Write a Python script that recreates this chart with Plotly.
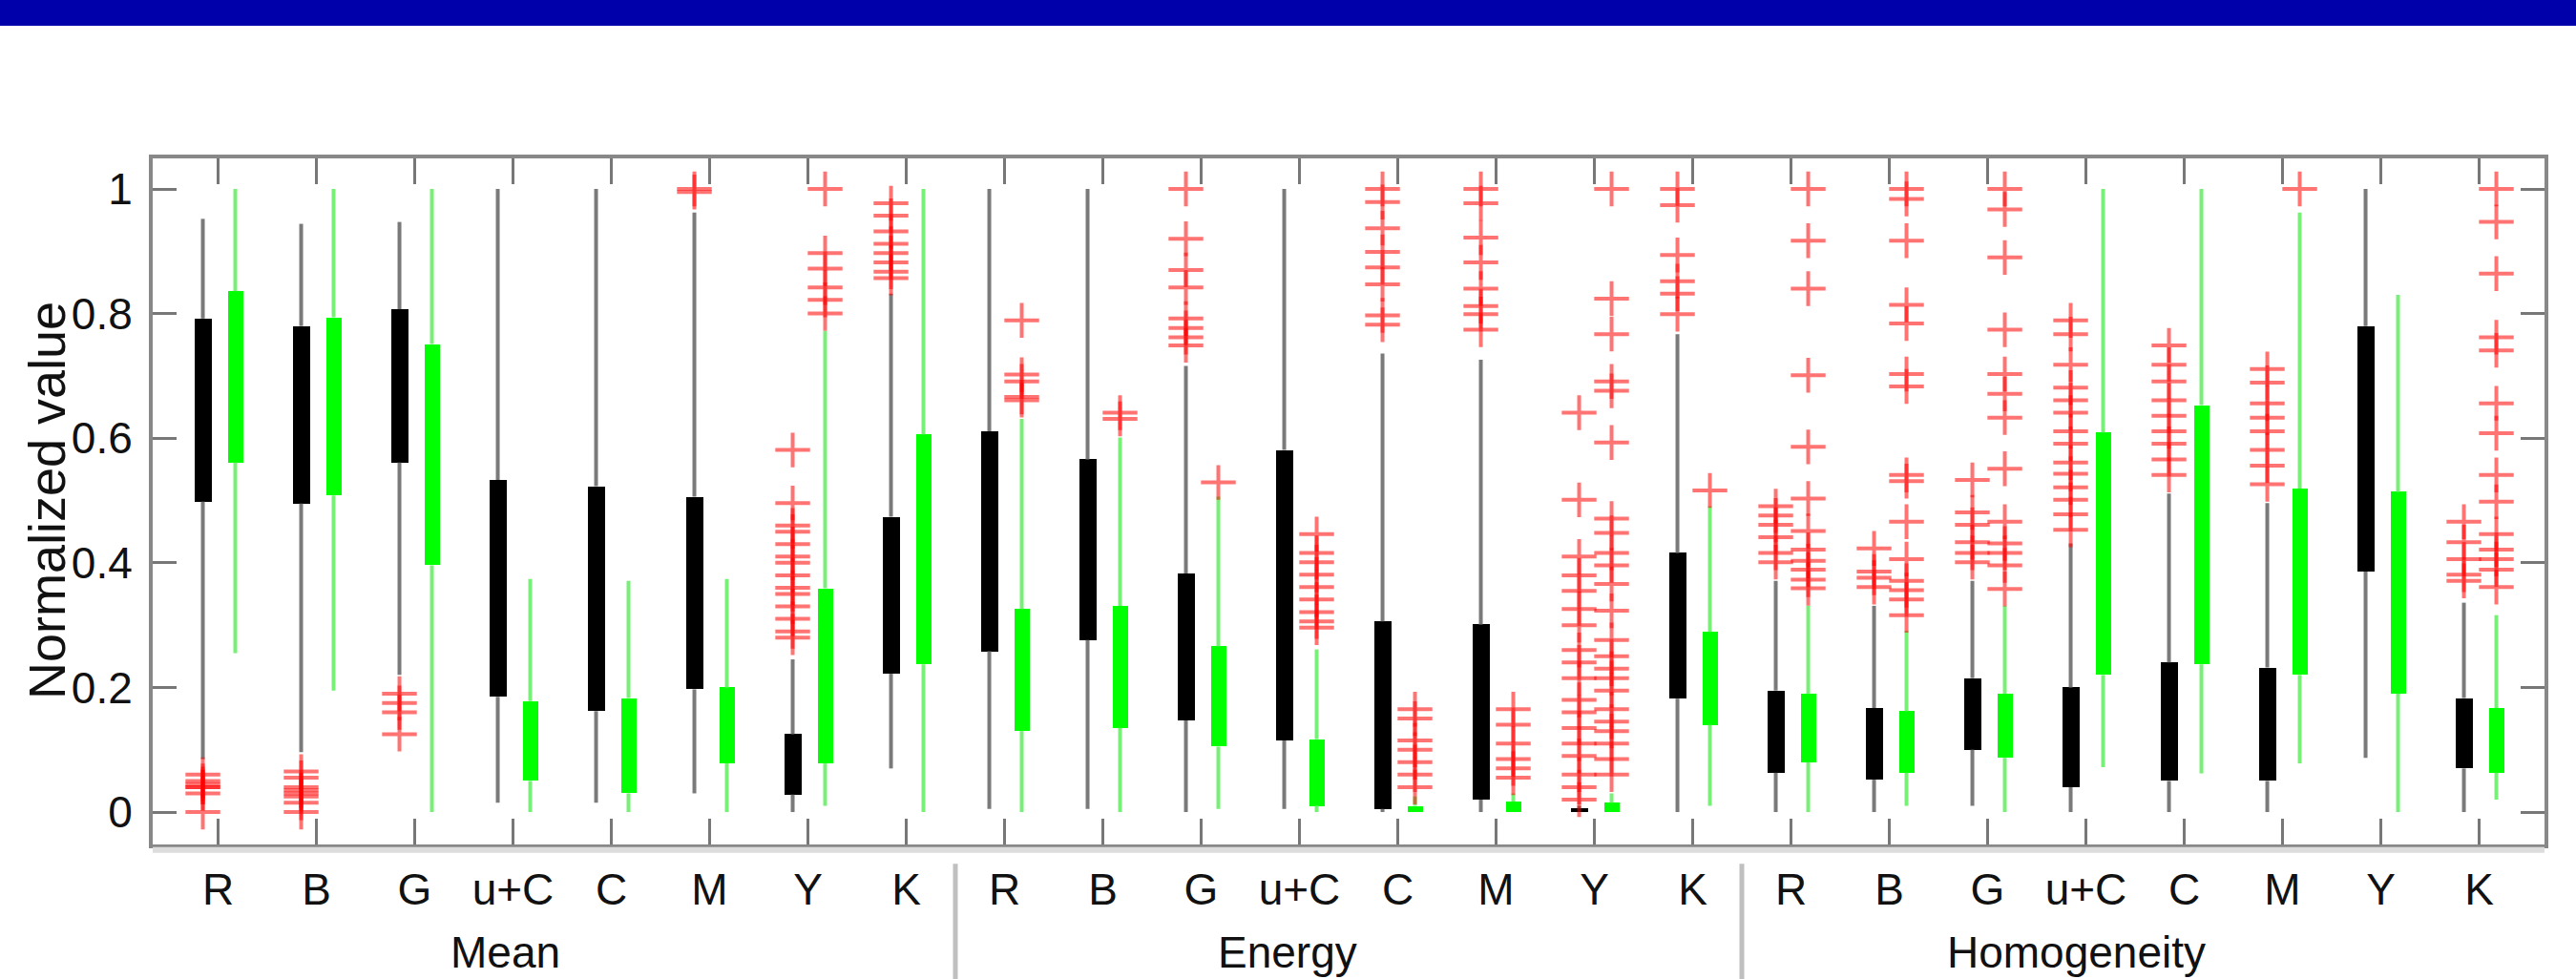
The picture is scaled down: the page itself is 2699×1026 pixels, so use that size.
import plotly.graph_objects as go

# ---------------- data ----------------
groups = ["Mean", "Energy", "Homogeneity"]
channels = ["R", "B", "G", "u+C", "C", "M", "Y", "K"]

# black series (lower whisker, q1, q3, upper whisker), 24 categories
blk_lo = [0.085, 0.096, 0.22, 0.015, 0.015, 0.03, 0.0, 0.07,
          0.005, 0.005, 0.0, 0.005, 0.0, 0.0, 0.0, 0.0,
          0.0, 0.0, 0.01, 0.0, 0.0, 0.0, 0.087, 0.0]
blk_q1 = [0.498, 0.495, 0.561, 0.185, 0.162, 0.197, 0.028, 0.222,
          0.258, 0.276, 0.147, 0.115, 0.005, 0.02, 0.0, 0.182,
          0.063, 0.052, 0.10, 0.04, 0.05, 0.05, 0.386, 0.07]
blk_q3 = [0.792, 0.78, 0.807, 0.533, 0.523, 0.506, 0.125, 0.474,
          0.611, 0.566, 0.383, 0.581, 0.306, 0.301, 0.006, 0.416,
          0.195, 0.167, 0.215, 0.20, 0.24, 0.232, 0.78, 0.183]
blk_hi = [0.952, 0.944, 0.947, 1.0, 1.0, 0.962, 0.245, 0.832,
          1.0, 1.0, 0.716, 1.0, 0.736, 0.726, 0.01, 0.767,
          0.371, 0.331, 0.371, 0.431, 0.511, 0.496, 1.0, 0.336]
blk_out = [
    [0.06, 0.05, 0.045, 0.04, 0.04, 0.03, 0.0],
    [0.065, 0.055, 0.04, 0.035, 0.03, 0.025, 0.015, 0.0],
    [0.19, 0.175, 0.16, 0.125],
    [],
    [],
    [1.0, 0.995],
    [0.581, 0.496, 0.46, 0.45, 0.43, 0.41, 0.40, 0.38, 0.36, 0.35, 0.33, 0.31, 0.29, 0.28],
    [0.977, 0.957, 0.932, 0.912, 0.897, 0.882, 0.867, 0.857],
    [],
    [],
    [1.0, 0.92, 0.87, 0.842, 0.792, 0.777, 0.762, 0.749],
    [],
    [1.0, 0.979, 0.937, 0.899, 0.874, 0.847, 0.797, 0.782],
    [1.0, 0.977, 0.922, 0.882, 0.84, 0.812, 0.799, 0.774],
    [0.641, 0.501, 0.41, 0.38, 0.355, 0.326, 0.30, 0.26, 0.24, 0.215, 0.18, 0.16,
     0.135, 0.11, 0.09, 0.06, 0.04, 0.02],
    [1.0, 0.974, 0.894, 0.852, 0.832, 0.799],
    [0.491, 0.476, 0.461, 0.441, 0.416, 0.401],
    [0.423, 0.386, 0.376, 0.361],
    [0.533, 0.481, 0.461, 0.433, 0.416, 0.401],
    [0.789, 0.767, 0.718, 0.681, 0.661, 0.641, 0.611, 0.591, 0.561, 0.543, 0.521,
     0.501, 0.478, 0.453],
    [0.749, 0.718, 0.691, 0.661, 0.636, 0.611, 0.591, 0.566, 0.541],
    [0.711, 0.689, 0.656, 0.633, 0.611, 0.581, 0.556, 0.526],
    [],
    [0.466, 0.433, 0.406, 0.381, 0.371],
]

# green series
grn_lo = [0.255, 0.195, 0.0, 0.0, 0.0, 0.0, 0.01, 0.0,
          0.0, 0.0, 0.005, 0.0, 0.0, 0.0, 0.0, 0.01,
          0.0, 0.01, 0.0, 0.072, 0.062, 0.078, 0.0, 0.02]
grn_q1 = [0.561, 0.508, 0.396, 0.05, 0.03, 0.078, 0.078, 0.237,
          0.13, 0.135, 0.105, 0.01, 0.0, 0.0, 0.0, 0.14,
          0.08, 0.063, 0.087, 0.22, 0.237, 0.22, 0.19, 0.063]
grn_q3 = [0.836, 0.794, 0.751, 0.178, 0.183, 0.20, 0.359, 0.606,
          0.326, 0.331, 0.266, 0.117, 0.01, 0.017, 0.015, 0.289,
          0.19, 0.162, 0.19, 0.609, 0.653, 0.519, 0.514, 0.167]
grn_hi = [1.0, 1.0, 1.0, 0.374, 0.371, 0.374, 0.772, 1.0,
          0.631, 0.601, 0.506, 0.261, 0.025, 0.03, 0.03, 0.491,
          0.331, 0.291, 0.331, 1.0, 1.0, 0.962, 0.83, 0.316]
grn_out = [
    [], [], [], [], [], [],
    [1.0, 0.897, 0.872, 0.842, 0.822, 0.80],
    [],
    [0.789, 0.702, 0.691, 0.666, 0.661],
    [0.641, 0.631],
    [0.529],
    [0.446, 0.416, 0.401, 0.381, 0.361, 0.341, 0.321, 0.306, 0.296],
    [0.165, 0.15, 0.115, 0.10, 0.08, 0.06, 0.04],
    [0.165, 0.14, 0.11, 0.085, 0.07, 0.055],
    [1.0, 0.824, 0.767, 0.691, 0.676, 0.593, 0.471, 0.448, 0.416, 0.396, 0.366,
     0.323, 0.276, 0.25, 0.23, 0.215, 0.195, 0.165, 0.145, 0.13, 0.11, 0.085, 0.06],
    [0.516],
    [1.0, 0.917, 0.84, 0.701, 0.586, 0.503, 0.451, 0.421, 0.403, 0.389, 0.373, 0.359],
    [1.0, 0.984, 0.917, 0.814, 0.784, 0.703, 0.683, 0.541, 0.531, 0.466, 0.406,
     0.371, 0.356, 0.341, 0.316],
    [1.0, 0.967, 0.89, 0.774, 0.703, 0.671, 0.633, 0.551, 0.466, 0.431, 0.416,
     0.396, 0.358],
    [], [],
    [1.0],
    [],
    [1.0, 0.947, 0.864, 0.762, 0.741, 0.656, 0.608, 0.541, 0.498, 0.446, 0.421,
     0.406, 0.389, 0.361],
]

y_ticks = [0, 0.2, 0.4, 0.6, 0.8, 1]
y_ticktext = ["0", "0.2", "0.4", "0.6", "0.8", "1"]
y_title = "Normalized value"

# ---------------- style ----------------
BLK_OFF, GRN_OFF = -0.155, 0.175
BLK_W, GRN_W = 0.175, 0.155
FONT = "Liberation Sans, Arial, sans-serif"

ncat = len(groups) * len(channels)
idx = list(range(ncat))
ticktext = channels * len(groups)

fig = go.Figure()


def add_series(off, lo, q1, q3, hi, out, fill, wcol, bw):
    xs, ys = [], []
    for i in idx:
        p = i + off
        xs += [p, p, None, p, p, None]
        ys += [lo[i], q1[i], None, q3[i], hi[i], None]
    fig.add_trace(go.Scatter(x=xs, y=ys, mode="lines",
                             line=dict(color=wcol, width=4),
                             hoverinfo="skip", showlegend=False))
    fig.add_trace(go.Bar(x=[i + off for i in idx],
                         y=[q3[i] - q1[i] for i in idx],
                         base=[q1[i] for i in idx],
                         width=bw, marker=dict(color=fill, line=dict(width=0)),
                         showlegend=False))
    ox, oy = [], []
    for i in idx:
        for v in out[i]:
            ox.append(i + off)
            oy.append(v)
    fig.add_trace(go.Scatter(x=ox, y=oy, mode="markers",
                             marker=dict(symbol="cross-thin", size=26,
                                         line=dict(color="rgba(255,0,0,0.55)", width=4)),
                             showlegend=False))


add_series(BLK_OFF, blk_lo, blk_q1, blk_q3, blk_hi, blk_out, "#000000", "#7a7a7a", BLK_W)
add_series(GRN_OFF, grn_lo, grn_q1, grn_q3, grn_hi, grn_out, "#00ff00", "#78f078", GRN_W)

# group labels, y title and separators
group_label_x = [2.92, 10.88, 18.9]
annotations = []
for g, gx in zip(groups, group_label_x):
    annotations.append(dict(x=gx, y=-0.157, xref="x", yref="paper", text=g,
                            showarrow=False, yanchor="middle", xanchor="center",
                            font=dict(family=FONT, size=46, color="#111111")))
annotations.append(dict(x=-0.0443, y=0.502, xref="paper", yref="paper", text=y_title,
                        textangle=-90, showarrow=False, xanchor="center",
                        yanchor="middle",
                        font=dict(family=FONT, size=54, color="#111111")))

shapes = []
for k in range(1, len(groups)):
    sx = k * len(channels) - 0.5
    shapes.append(dict(type="line", xref="x", yref="paper", x0=sx, x1=sx,
                       y0=-0.028, y1=-0.21, line=dict(color="#c0c0c0", width=5)))
# top banner
shapes.append(dict(type="rect", xref="paper", yref="paper", x0=-0.1, x1=1.1,
                   y0=1.1933, y1=1.3, fillcolor="#0000aa", line=dict(width=0),
                   layer="below"))
# light shadow under the bottom frame
shapes.append(dict(type="line", xref="paper", yref="paper", x0=0, x1=1,
                   y0=-0.008, y1=-0.008, line=dict(color="#dddddd", width=6)))

fig.update_layout(
    width=2699, height=1026,
    margin=dict(l=160, r=33, t=166, b=141, autoexpand=False),
    paper_bgcolor="white", plot_bgcolor="white",
    barmode="overlay", bargap=0,
    annotations=annotations, shapes=shapes,
    xaxis=dict(range=[-0.665, 23.665], tickmode="array", tickvals=idx,
               ticktext=ticktext, ticks="inside", ticklen=27, tickwidth=3,
               tickcolor="#777777", showline=True, linecolor="#888888",
               linewidth=4, mirror="ticks", showgrid=False, zeroline=False,
               automargin=False,
               tickfont=dict(family=FONT, size=46, color="#111111"),
               ticklabelstandoff=4),
    yaxis=dict(range=[-0.052, 1.049], tickmode="array", tickvals=y_ticks,
               ticktext=y_ticktext, ticks="inside", ticklen=25, tickwidth=3,
               tickcolor="#777777", showline=True, linecolor="#888888",
               linewidth=4, mirror="ticks", showgrid=False, zeroline=False,
               automargin=False,
               tickfont=dict(family=FONT, size=46, color="#111111"),
               ticklabelstandoff=8),
)

fig.write_html("out.html",
               config={"displayModeBar": False},
               post_script="document.body.style.margin='0';"
                           "document.body.style.overflow='hidden';")
